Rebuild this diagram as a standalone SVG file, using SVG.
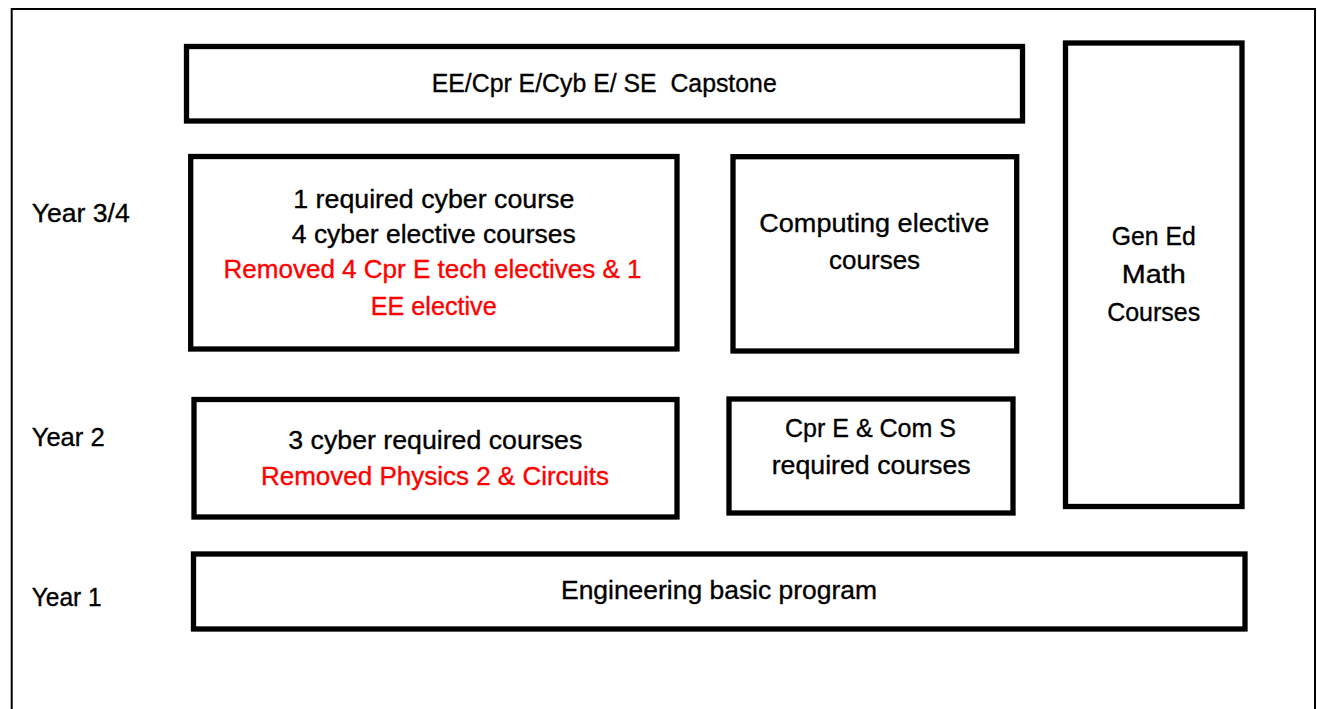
<svg xmlns="http://www.w3.org/2000/svg" width="1317" height="709" viewBox="0 0 1317 709">
<style>
.box{fill:#fff;stroke:#000;stroke-width:5.3}
.t{font-family:"Liberation Sans",Arial,sans-serif;font-size:26.5px;fill:#000;stroke:#000;stroke-width:0.35;text-anchor:middle}
.l{font-family:"Liberation Sans",Arial,sans-serif;font-size:26.5px;fill:#000;stroke:#000;stroke-width:0.35}
.r{fill:#ff0000;stroke:#ff0000}
.pre{white-space:pre}
</style>
<rect width="1317" height="709" fill="#fff"/>
<path d="M11.7,709 V9 H1315 V709" fill="none" stroke="#000" stroke-width="2"/>
<g id="labels">
<text class="l" x="31.7" y="222.3" textLength="98" lengthAdjust="spacingAndGlyphs">Year 3/4</text>
<text class="l" x="31.7" y="446" textLength="73" lengthAdjust="spacingAndGlyphs">Year 2</text>
<text class="l" x="31.7" y="605.7" textLength="70" lengthAdjust="spacingAndGlyphs">Year 1</text>
</g>
<g id="capstone">
<rect class="box" x="186.5" y="46.5" width="836" height="74.5"/>
<text class="t pre" x="604.2" y="91.7" textLength="345" lengthAdjust="spacingAndGlyphs" xml:space="preserve">EE/Cpr E/Cyb E/ SE  Capstone</text>
</g>
<g id="cyber34">
<rect class="box" x="190.7" y="156.5" width="486.3" height="192.5"/>
<text class="t" x="433.8" y="208.3" textLength="281" lengthAdjust="spacingAndGlyphs">1 required cyber course</text>
<text class="t" x="433.8" y="243.3" textLength="284" lengthAdjust="spacingAndGlyphs">4 cyber elective courses</text>
<text class="t r" x="432.5" y="278.3" textLength="418" lengthAdjust="spacingAndGlyphs">Removed 4 Cpr E tech electives &amp; 1</text>
<text class="t r" x="433.7" y="315" textLength="126" lengthAdjust="spacingAndGlyphs">EE elective</text>
</g>
<g id="computing">
<rect class="box" x="733" y="156.7" width="283.7" height="194.3"/>
<text class="t" x="874.3" y="231.7" textLength="230" lengthAdjust="spacingAndGlyphs">Computing elective</text>
<text class="t" x="874.6" y="269.3" textLength="91" lengthAdjust="spacingAndGlyphs">courses</text>
</g>
<g id="gened">
<rect class="box" x="1065.5" y="43" width="176.5" height="463.5"/>
<text class="t" x="1153.7" y="245" textLength="84" lengthAdjust="spacingAndGlyphs">Gen Ed</text>
<text class="t" x="1153.7" y="283" textLength="64" lengthAdjust="spacingAndGlyphs">Math</text>
<text class="t" x="1153.7" y="321" textLength="93" lengthAdjust="spacingAndGlyphs">Courses</text>
</g>
<g id="cyber2">
<rect class="box" x="194" y="399.5" width="483" height="117.5"/>
<text class="t" x="435.3" y="449" textLength="294" lengthAdjust="spacingAndGlyphs">3 cyber required courses</text>
<text class="t r" x="435" y="485" textLength="348" lengthAdjust="spacingAndGlyphs">Removed Physics 2 &amp; Circuits</text>
</g>
<g id="cprecoms">
<rect class="box" x="729" y="399" width="284" height="114"/>
<text class="t" x="870.5" y="437.3" textLength="171" lengthAdjust="spacingAndGlyphs">Cpr E &amp; Com S</text>
<text class="t" x="871.2" y="474.3" textLength="199" lengthAdjust="spacingAndGlyphs">required courses</text>
</g>
<g id="ebp">
<rect class="box" x="193.5" y="554" width="1051.5" height="75"/>
<text class="t" x="719" y="599" textLength="316" lengthAdjust="spacingAndGlyphs">Engineering basic program</text>
</g>
<g id="connectors"/>
</svg>
